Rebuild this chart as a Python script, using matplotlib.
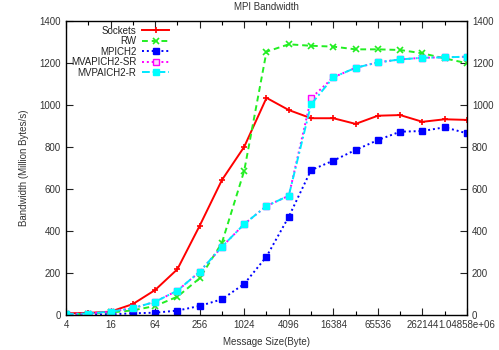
import numpy as np
import matplotlib
matplotlib.use("Agg")
import matplotlib.pyplot as plt
from matplotlib.ticker import FixedLocator, FixedFormatter

plt.rcParams['font.family'] = ['Liberation Sans', 'DejaVu Sans']
plt.rcParams['font.size'] = 7

# message sizes 2^2 .. 2^20
sizes = [2 ** k for k in range(2, 21)]

# bandwidth in Million Bytes/s
sockets = [8, 10, 16, 52, 119, 218, 425, 643, 801, 1034, 976, 937, 937, 910, 949, 952, 920, 932, 929]
rw = [3, 6, 12, 22, 43, 87, 175, 344, 687, 1254, 1289, 1282, 1278, 1265, 1265, 1262, 1246, 1222, 1199]
mpich2 = [1, 2, 3, 8, 11, 21, 43, 75, 148, 278, 468, 690, 735, 786, 833, 873, 876, 894, 865]
mvapich2_sr = [5, 7, 16, 32, 63, 116, 206, 325, 433, 519, 568, 1032, 1132, 1177, 1203, 1217, 1225, 1227, 1230]
mvpaich2_r = [5, 7, 16, 32, 63, 116, 206, 325, 433, 519, 568, 1003, 1132, 1177, 1203, 1217, 1225, 1227, 1230]

xtick_vals = [4, 16, 64, 256, 1024, 4096, 16384, 65536, 262144, 1048576]
xtick_labels = ['4', '16', '64', '256', '1024', '4096', '16384', '65536', '262144', '1.04858e+06']
ytick_vals = [0, 200, 400, 600, 800, 1000, 1200, 1400]

fig = plt.figure(figsize=(4.99, 3.5), dpi=100)
ax = fig.add_axes([66 / 499, 35 / 350, 401 / 499, 294 / 350])

ax.plot(sizes, sockets, color='#ff0000', lw=1.4, ls='-', marker='+', ms=4, mew=1.2, label='Sockets')
ax.plot(sizes, rw, color='#22ee22', lw=1.4, ls=(0, (3, 2)), marker='x', ms=4, mew=1.2, label='RW')
ax.plot(sizes, mpich2, color='#0000ff', lw=1.4, ls=(0, (1, 1.5)), marker='s', ms=4, label='MPICH2')
ax.plot(sizes, mvapich2_sr, color='#ff00ff', lw=1.4, ls=(0, (1, 1.5)), marker='s', ms=5,
        mfc='#fbd8fb', mec='#ff00ff', mew=1.0, label='MVAPICH2-SR')
ax.plot(sizes, mvpaich2_r, color='#00e8ff', lw=1.4, ls=(0, (4, 1.5, 1, 1.5)), marker='s', ms=4.5,
        mfc='#00ffff', mec='#00ffff', label='MVPAICH2-R')

ax.set_xscale('log', base=2)
ax.set_xlim(4, 1048576)
ax.set_ylim(0, 1400)
ax.xaxis.set_major_locator(FixedLocator(xtick_vals))
ax.xaxis.set_major_formatter(FixedFormatter(xtick_labels))
ax.xaxis.set_minor_locator(FixedLocator(sizes))
ax.xaxis.set_minor_formatter(FixedFormatter([''] * len(sizes)))
ax.set_yticks(ytick_vals)

ax.tick_params(axis='both', which='major', direction='in', length=5, width=0.8,
               top=True, right=True, labelright=True, colors='#222222', labelcolor='#333333')
ax.tick_params(axis='x', which='minor', direction='in', length=3, width=0.8, top=True)
for s in ax.spines.values():
    s.set_linewidth(1.0)

ax.set_title('MPI Bandwidth', fontsize=7, color='#333333', pad=8)
ax.set_xlabel('Message Size(Byte)', color='#333333', labelpad=5)
ax.set_ylabel('Bandwidth (Million Bytes/s)', color='#333333', labelpad=8)

leg = ax.legend(loc='upper left', bbox_to_anchor=(0.0, 1.0), frameon=False, markerfirst=False,
                handlelength=2.8, handletextpad=0.6, labelspacing=0.05, borderpad=0.3,
                borderaxespad=0.2, fontsize=7)
for col in leg._legend_handle_box.get_children():
    col.align = 'right'
for t in leg.get_texts():
    t.set_color('#222222')

fig.savefig('out.png', dpi=100)
